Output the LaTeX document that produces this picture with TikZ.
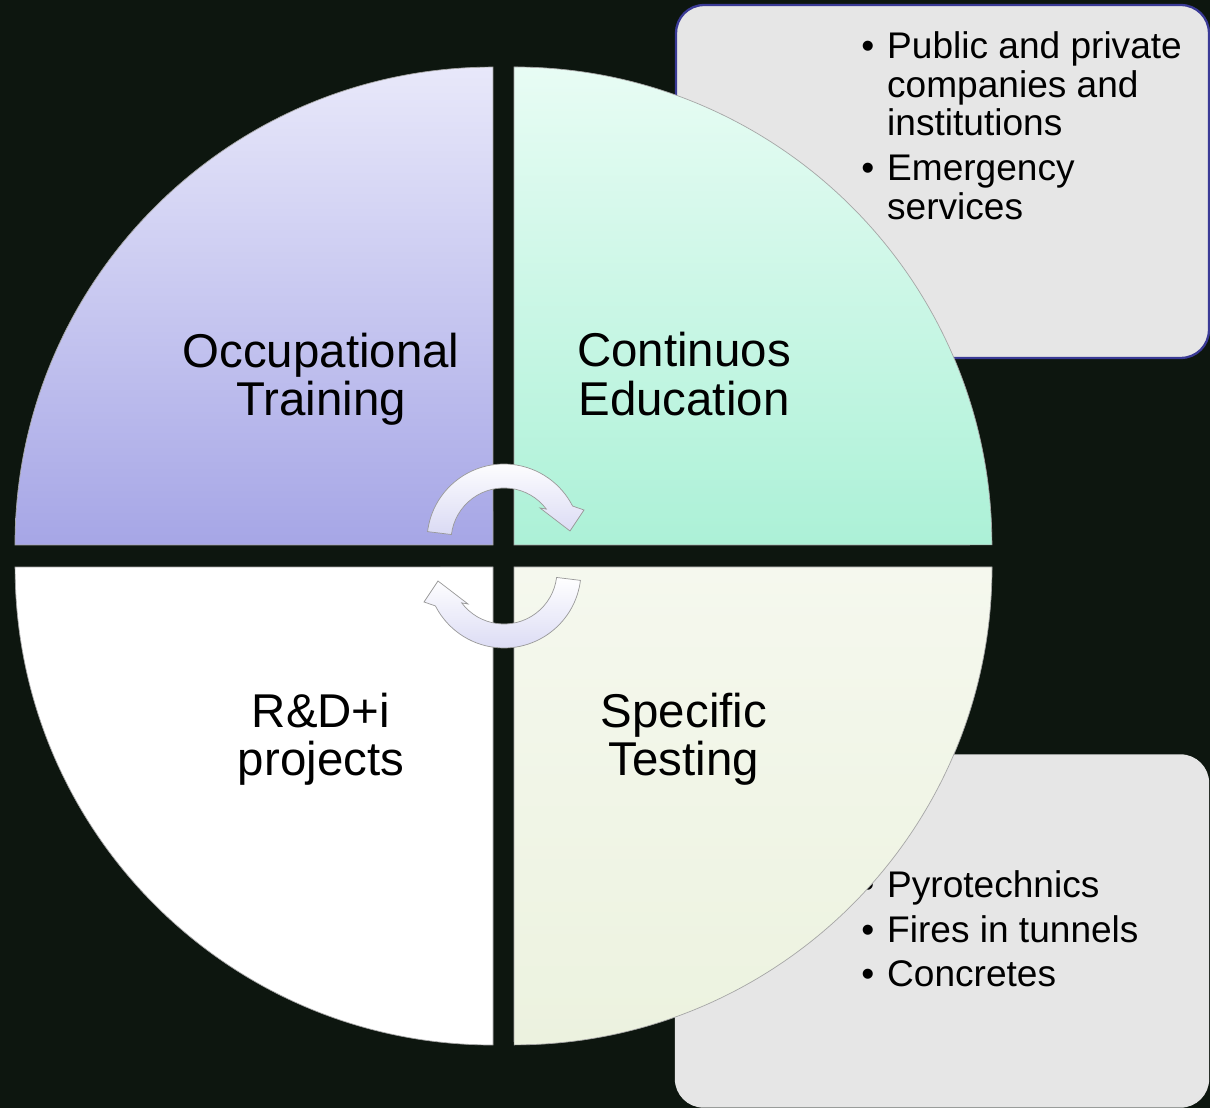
\documentclass[tikz,border=0pt]{standalone}
\usepackage{fontspec}
\setmainfont{Liberation Sans}
\definecolor{bgdark}{RGB}{13,22,15}
\definecolor{boxgray}{RGB}{230,230,230}
\definecolor{boxblue}{RGB}{58,58,150}
\definecolor{lilac}{RGB}{166,166,230}
\definecolor{lilactop}{RGB}{232,232,250}
\definecolor{mint}{RGB}{172,241,215}
\definecolor{minttop}{RGB}{232,252,244}
\definecolor{sage}{RGB}{236,242,223}
\definecolor{sagetop}{RGB}{245,248,238}
\definecolor{arrowlav}{RGB}{218,218,244}
\newcommand{\bul}{\makebox[14.7pt][l]{\textbullet}}
\newcommand{\ind}{\hspace*{14.7pt}}

\begin{document}
\begin{tikzpicture} [
      x = 0.02cm, y = 0.02cm,
      quarter/.style = {draw=black!35, line width=0.4pt},
      sidebox/.style = {rounded corners=0.56cm, fill=boxgray, minimum width=10.66cm, inner sep=0},
      bigtext/.style = {font=\fontsize{27}{27.4}\selectfont, align=center, inner sep=0},
      listtext/.style = {font=\fontsize{21.1}{22.1}\selectfont, align=left, inner sep=0, anchor=north west},
      cyclearrow/.pic = {
        \shadedraw[top color=white, bottom color=arrowlav, draw=black!40, line width=0.4pt]
          (173:77) arc[start angle=173, end angle=27, radius=1.54cm]
          -- (80,31) -- (66,10) -- (36,33) -- (37:53)
          arc[start angle=37, end angle=173, radius=1.06cm] -- cycle;
      }
      ]

      \useasboundingbox (0,0) rectangle (1210,1108);
      \fill[bgdark] (0,0) rectangle (1210,1108);

      \node[sidebox, draw=boxblue, line width=1.3pt, minimum height=7.06cm] (topbox) at (942.5,926.5) {};
      \node[sidebox, draw=white!90!black, line width=0.8pt, minimum height=7.04cm] (lowbox) at (942,177) {};

      \node[listtext] (clients) at (861,1077) {\bul Public and private\\ \ind companies and\\ \ind institutions\\[3.4pt] \bul Emergency\\ \ind services};
      \node[listtext] (tests) at (861,238) {\bul Pyrotechnics\\[3.4pt] \bul Fires in tunnels\\[3.4pt] \bul Concretes};

      \shadedraw[quarter, top color=lilactop, bottom color=lilac] (493,563) -- ++(-478,0) arc[start angle=180, end angle=90, radius=9.56cm] -- cycle;
      \shadedraw[quarter, top color=minttop, bottom color=mint] (514,563) -- ++(0,478) arc[start angle=90, end angle=0, radius=9.56cm] -- cycle;
      \filldraw[quarter, fill=white] (493,541) -- ++(0,-478) arc[start angle=270, end angle=180, radius=9.56cm] -- cycle;
      \shadedraw[quarter, top color=sagetop, bottom color=sage] (514,541) -- ++(478,0) arc[start angle=0, end angle=-90, radius=9.56cm] -- cycle;

      \node[bigtext] (occupational) at (321,729) {Occupational\\Training};
      \node[bigtext] (continuos) at (684,734) {Continuos\\Education};
      \node[bigtext] (rdi) at (321,369) {R\&D+i\\projects};
      \node[bigtext] (testing) at (684,369) {Specific\\Testing};

      \pic at (504,567) {cyclearrow};
      \pic[rotate=180] at (504,537) {cyclearrow};
\end{tikzpicture}
\end{document}
